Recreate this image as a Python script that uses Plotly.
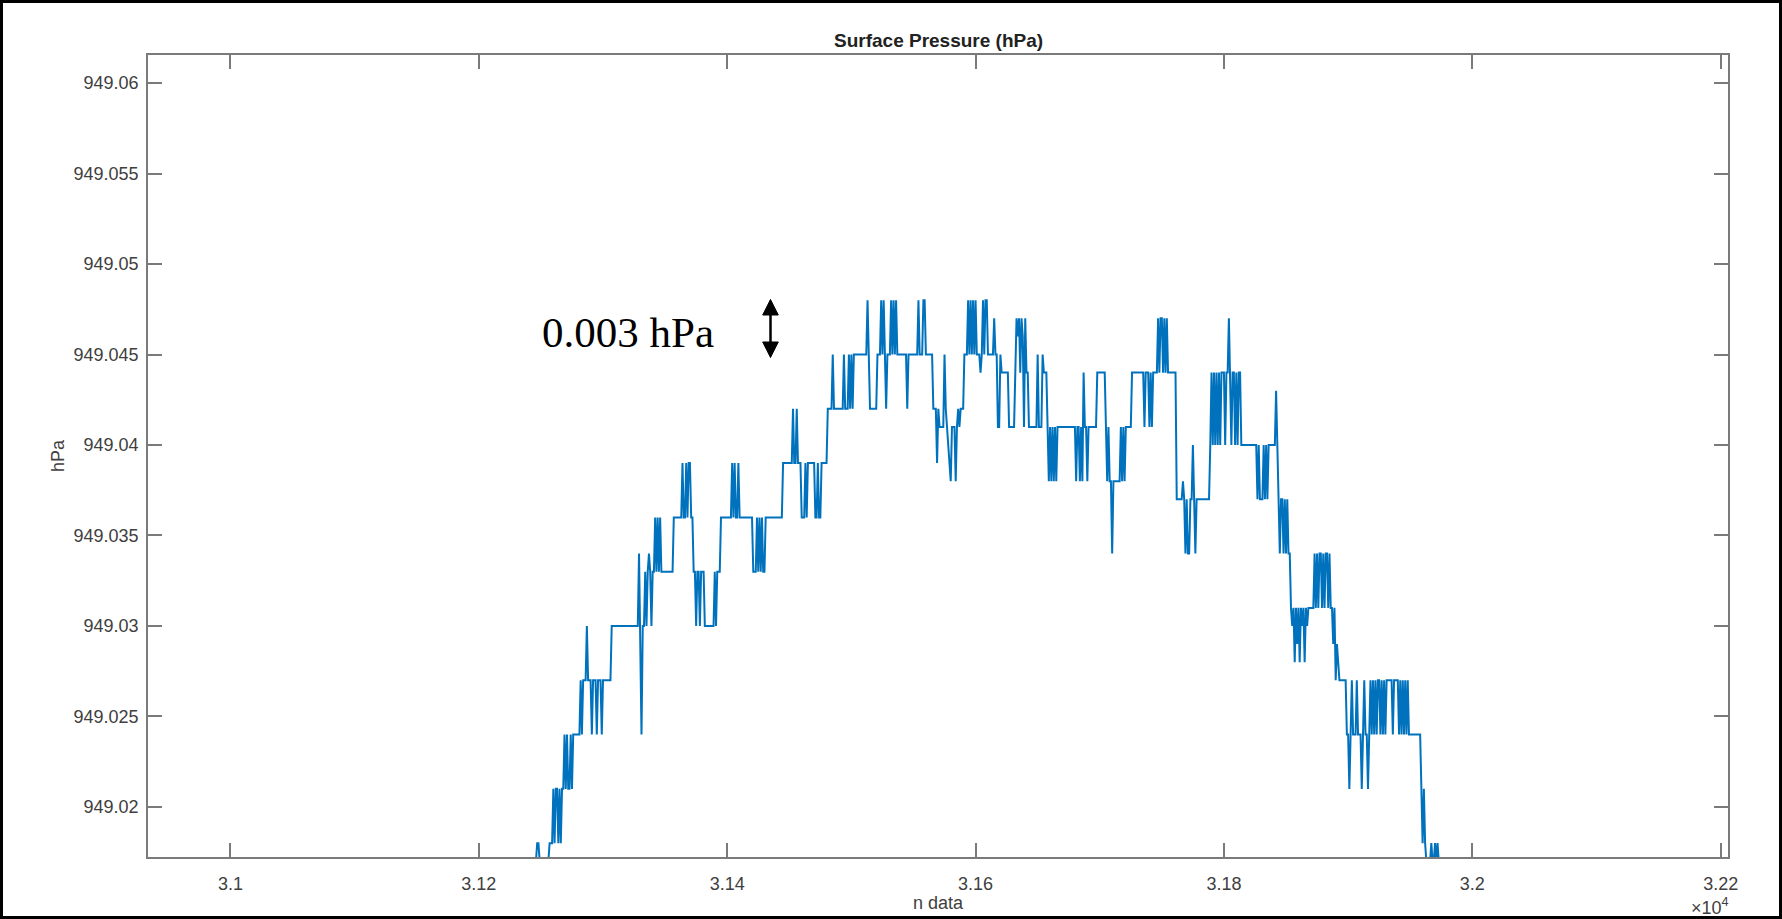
import plotly.graph_objects as go

# ---------------- data ----------------
# vertices of the pressure trace: sample index and pressure in units of 0.001 hPa above 949 hPa
n_idx = [
    31235, 31246, 31247, 31248, 31249, 31256, 31257, 31259,
    31260, 31261, 31262, 31263, 31264, 31265, 31266, 31267, 31268,
    31269, 31270, 31271, 31272, 31273, 31274, 31275, 31276, 31281,
    31282, 31283, 31284, 31286, 31287, 31288, 31290, 31291, 31292, 31294, 31295, 31296, 31298, 31299, 31300, 31306,
    31307, 31328, 31329, 31330, 31331, 31332, 31333,
    31334, 31335, 31336, 31337, 31338, 31339, 31340, 31341, 31342, 31343, 31344, 31345, 31346, 31347, 31356,
    31357, 31363, 31364, 31365, 31366, 31367, 31368, 31369, 31370, 31371, 31372,
    31373, 31374, 31375, 31376, 31377, 31378, 31379, 31381, 31382, 31389, 31390, 31391, 31392, 31394,
    31395, 31403, 31404, 31405, 31406, 31407, 31408, 31409, 31410, 31420,
    31421, 31423, 31424, 31425, 31426, 31427, 31428, 31429, 31430,
    31431, 31444, 31445, 31452, 31453, 31454, 31455, 31456, 31457,
    31459, 31460, 31462, 31463, 31464, 31465, 31470, 31471, 31472, 31473, 31474, 31475, 31476, 31480,
    31481, 31484, 31485, 31486, 31493, 31494, 31495, 31497, 31498, 31499, 31500, 31501, 31502, 31512,
    31513, 31514, 31515, 31520, 31521, 31523, 31524, 31525, 31526, 31527, 31528, 31529, 31531, 31532, 31533,
    31534, 31535, 31536, 31537, 31544, 31545, 31546, 31553, 31554, 31555, 31557, 31558, 31559, 31560, 31565,
    31566, 31568, 31569, 31570, 31571, 31574, 31575, 31576, 31577, 31580, 31581, 31583, 31584, 31585, 31586,
    31587, 31588, 31590,
    31591, 31593, 31594, 31595, 31596, 31597, 31598, 31599, 31600, 31601, 31603, 31604, 31605, 31606, 31607,
    31608, 31609, 31610, 31614, 31615, 31616, 31617, 31618,
    31619, 31620, 31621, 31626, 31627, 31631, 31632, 31633, 31634, 31635, 31636, 31637, 31638, 31639, 31640,
    31641, 31642, 31643, 31649, 31650, 31651, 31653, 31654, 31655, 31657, 31658, 31659, 31660, 31661, 31662,
    31663, 31664, 31665, 31666, 31680, 31681, 31682, 31683, 31684, 31685, 31686, 31687, 31688, 31689, 31690,
    31691, 31697, 31698,
    31704, 31705, 31706, 31707, 31708, 31709, 31710, 31711, 31716, 31717, 31718, 31719, 31720, 31721, 31725,
    31726, 31735, 31736, 31737, 31739, 31740, 31741, 31742, 31743, 31746, 31747, 31748, 31749, 31750, 31751,
    31752, 31753, 31754, 31755, 31761, 31762, 31766, 31767, 31768, 31769, 31770, 31771, 31772, 31773, 31774,
    31775, 31776, 31777, 31778, 31788, 31789, 31790, 31791, 31792, 31793, 31794, 31795, 31796, 31797, 31798,
    31800, 31801, 31802, 31803, 31804, 31805, 31806, 31807, 31808, 31809, 31810, 31811, 31812, 31813, 31814,
    31826, 31827, 31828, 31829, 31831, 31832, 31833, 31834, 31835, 31836, 31841, 31842, 31843, 31844, 31845,
    31846, 31847, 31848, 31849, 31850, 31851, 31852, 31853, 31854,
    31855, 31856, 31857, 31858, 31859, 31860, 31861, 31862, 31863, 31864, 31865, 31866, 31867, 31868, 31872,
    31873, 31874, 31875, 31876, 31877, 31878, 31879, 31880, 31881, 31882, 31883, 31884, 31885, 31886, 31887,
    31888, 31889, 31890, 31891, 31892, 31893, 31898,
    31899, 31900, 31901, 31902, 31903, 31904, 31906, 31907, 31908, 31910, 31911, 31912, 31913, 31914, 31915,
    31916, 31917, 31918, 31919, 31920, 31921, 31922, 31923, 31924, 31925, 31926, 31927, 31928, 31929, 31930,
    31931, 31935, 31936, 31937, 31940, 31941, 31942, 31943, 31944, 31945, 31946, 31947, 31948,
    31949, 31958, 31959, 31960, 31961, 31962, 31963, 31966, 31967, 31968, 31969, 31970, 31971, 31972, 31973,
    31985,
]
p_milli = [
    17, 17, 18, 18, 17, 17, 18, 18,
    21, 18, 21, 21, 18, 21, 18, 21, 21,
    24, 21, 24, 21, 21, 24, 21, 24, 24,
    27, 24, 27, 27, 30, 27, 27, 24, 27, 27, 24, 27, 27, 24, 27, 27,
    30, 30, 34, 30, 24, 30, 30,
    33, 30, 33, 34, 33, 30, 33, 33, 36, 33, 36, 33, 36, 33, 33,
    36, 36, 39, 36, 36, 39, 36, 39, 39, 36, 36,
    33, 33, 30, 33, 33, 30, 33, 33, 30, 30, 33, 30, 33, 33,
    36, 36, 39, 36, 39, 36, 36, 39, 36, 36,
    33, 33, 36, 33, 36, 33, 36, 33, 33,
    36, 36, 39, 39, 42, 39, 39, 42, 39,
    39, 36, 36, 39, 36, 39, 39, 36, 36, 39, 36, 36, 39, 39,
    42, 42, 45, 42, 42, 45, 42, 42, 45, 42, 45, 42, 45, 45,
    48, 45, 42, 42, 45, 45, 48, 45, 48, 45, 42, 45, 45, 48, 45,
    48, 45, 48, 45, 45, 42, 45, 45, 48, 45, 45, 48, 48, 45, 45,
    42, 42, 39, 42, 41, 41, 45, 42, 41, 38, 41, 41, 38, 41, 42,
    41, 42, 42,
    45, 45, 48, 45, 48, 45, 48, 45, 48, 45, 45, 44, 45, 48, 45,
    48, 48, 45, 45, 47, 45, 45, 41,
    41, 45, 44, 44, 41, 41, 44, 47, 46, 47, 44, 47, 46, 41, 47,
    44, 44, 41, 41, 45, 41, 41, 45, 44, 44, 41, 38, 41, 38, 41,
    38, 41, 38, 41, 41, 38, 41, 41, 38, 41, 38, 44, 41, 41, 38,
    41, 41, 44,
    44, 41, 38, 41, 38, 38, 34, 38, 38, 41, 38, 41, 38, 41, 41,
    44, 44, 41, 44, 44, 41, 44, 41, 44, 44, 47, 44, 47, 47, 44,
    47, 44, 47, 44, 44, 37, 37, 38, 37, 34, 37, 34, 34, 37, 37,
    40, 37, 34, 37, 37, 40, 44, 40, 44, 40, 44, 40, 44, 40, 44,
    44, 40, 44, 44, 47, 44, 40, 44, 44, 40, 44, 40, 44, 44, 40,
    40, 37, 40, 37, 37, 40, 37, 40, 37, 40, 40, 43, 40, 37, 34,
    37, 37, 34, 37, 34, 37, 34, 34, 31,
    30, 31, 28, 31, 29, 31, 28, 31, 30, 31, 28, 31, 30, 31, 31,
    34, 31, 34, 31, 34, 34, 31, 34, 31, 34, 34, 31, 34, 31, 31,
    29, 31, 27, 29, 28, 27, 27,
    24, 24, 21, 24, 27, 24, 24, 27, 24, 24, 21, 24, 27, 24, 24,
    21, 24, 27, 24, 27, 24, 27, 24, 27, 27, 24, 27, 24, 27, 24,
    27, 27, 24, 27, 27, 24, 27, 24, 27, 24, 27, 24, 27,
    24, 24, 21, 18, 21, 18, 17, 17, 18, 17, 17, 18, 17, 18, 17,
    17,
]
p_base_hpa = 949.0
p_hpa = [round(p_base_hpa + v / 1000.0, 3) for v in p_milli]

x_ticks = [31000, 31200, 31400, 31600, 31800, 32000, 32200]
x_tick_text = ["3.1", "3.12", "3.14", "3.16", "3.18", "3.2", "3.22"]
y_ticks = [949.02, 949.025, 949.03, 949.035, 949.04, 949.045, 949.05, 949.055, 949.06]
y_tick_text = ["949.02", "949.025", "949.03", "949.035", "949.04", "949.045", "949.05", "949.055", "949.06"]
x_range = [30933.6, 32205.9]
y_range = [949.017235, 949.06155]

# ---------------- figure ----------------
W, H = 1782, 919
ML, MR, MT, MB = 148, 54, 55, 62
PW, PH = W - ML - MR, H - MT - MB

def px_x(px):
    return (px - ML) / PW

def px_y(py):
    return (H - MB - py) / PH

AX = "#7a7a7a"
TXT = "#404040"
FONT = "Liberation Sans, Arial, Helvetica, sans-serif"

fig = go.Figure()
fig.add_trace(go.Scatter(
    x=n_idx, y=p_hpa, mode="lines",
    line=dict(color="#0072BD", width=2),
    hoverinfo="skip", showlegend=False,
))

axis_common = dict(
    showline=True, linecolor=AX, linewidth=1.5, mirror="ticks",
    ticks="inside", ticklen=14, tickwidth=1.5, tickcolor=AX,
    showgrid=False, zeroline=False,
    tickfont=dict(family=FONT, size=18, color=TXT),
)

fig.update_layout(
    width=W, height=H, autosize=False,
    margin=dict(l=ML, r=MR, t=MT, b=MB, pad=0),
    paper_bgcolor="white", plot_bgcolor="white",
    xaxis=dict(range=x_range, tickmode="array", tickvals=x_ticks, ticktext=x_tick_text,
               ticklabelstandoff=10, **axis_common),
    yaxis=dict(range=y_range, tickmode="array", tickvals=y_ticks, ticktext=y_tick_text,
               ticklabelstandoff=4, **axis_common),
    showlegend=False,
)

annotations = [
    dict(text="<b>Surface Pressure (hPa)</b>", x=0.5, y=px_y(40), xref="paper", yref="paper",
         xanchor="center", yanchor="middle", showarrow=False,
         font=dict(family=FONT, size=19, color="#222222")),
    dict(text="n data", x=0.5, y=px_y(902.5), xref="paper", yref="paper",
         xanchor="center", yanchor="middle", showarrow=False,
         font=dict(family=FONT, size=18, color=TXT)),
    dict(text="hPa", x=px_x(58), y=0.5, xref="paper", yref="paper", textangle=-90,
         xanchor="center", yanchor="middle", showarrow=False,
         font=dict(family=FONT, size=18, color=TXT)),
    dict(text="\u00d710<sup>4</sup>", x=px_x(1731), y=px_y(906), xref="paper", yref="paper",
         xanchor="right", yanchor="middle", showarrow=False,
         font=dict(family=FONT, size=18, color=TXT)),
    dict(text="0.003 hPa", x=px_x(627.5), y=px_y(333), xref="paper", yref="paper",
         xanchor="center", yanchor="middle", showarrow=False,
         font=dict(family="Liberation Serif, Times New Roman, serif", size=43, color="black")),
]
fig.update_layout(annotations=annotations)

# double-headed arrow next to the "0.003 hPa" note (drawn with shapes)
ax_c, a_top, a_bot, a_half, a_len = 770.5, 299.5, 357.5, 7.8, 15.5
fig.add_shape(type="line", xref="paper", yref="paper",
              x0=px_x(ax_c), x1=px_x(ax_c), y0=px_y(a_top + a_len - 1), y1=px_y(a_bot - a_len + 1),
              line=dict(color="black", width=2.5))
for tip, base in ((a_top, a_top + a_len), (a_bot, a_bot - a_len)):
    path = "M {:.6f} {:.6f} L {:.6f} {:.6f} L {:.6f} {:.6f} Z".format(
        px_x(ax_c), px_y(tip), px_x(ax_c - a_half), px_y(base), px_x(ax_c + a_half), px_y(base))
    fig.add_shape(type="path", xref="paper", yref="paper", path=path,
                  fillcolor="black", line=dict(color="black", width=1))

# outer black frame of the picture
fig.add_shape(type="rect", xref="paper", yref="paper",
              x0=px_x(1.5), x1=px_x(W - 1.5), y0=px_y(H - 1.5), y1=px_y(1.5),
              line=dict(color="black", width=3), fillcolor="rgba(0,0,0,0)", layer="above")

fig.write_html("out.html", include_plotlyjs=True, config={"displayModeBar": False})
